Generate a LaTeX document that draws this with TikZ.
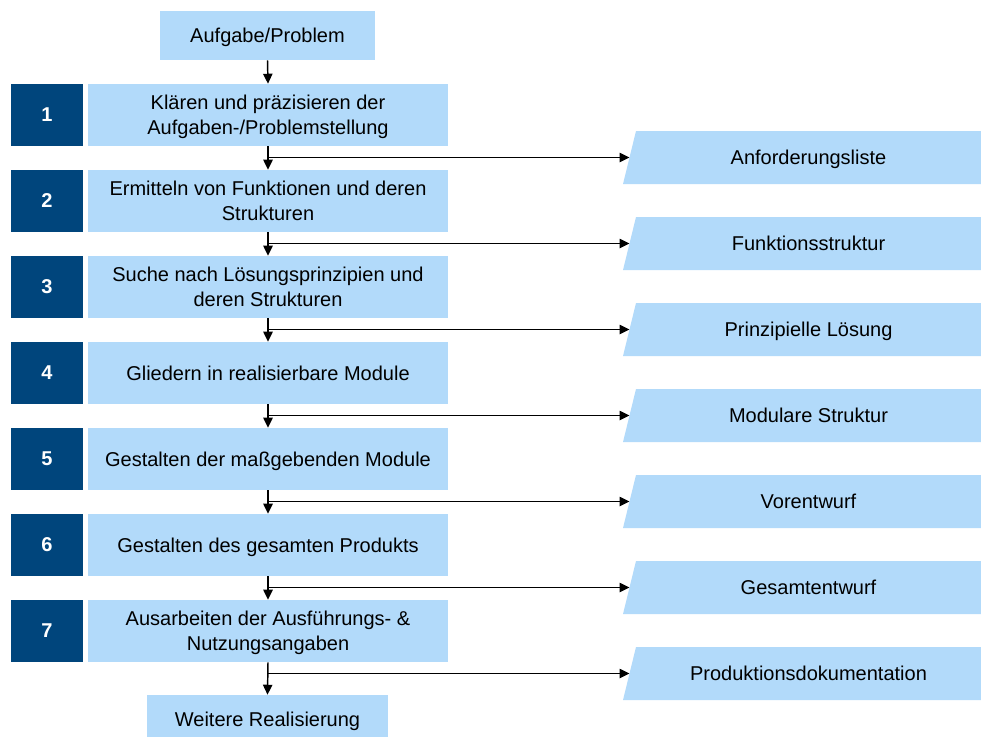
\documentclass[tikz,border=0pt]{standalone}
\usepackage{fontspec}
\setmainfont{Liberation Sans}
\usetikzlibrary{arrows.meta}
\definecolor{paleblue}{RGB}{178,218,250}
\definecolor{deepblue}{RGB}{0,69,124}
\begin{document}
\begin{tikzpicture}[x=0.75pt,y=-0.75pt,
  every node/.style={font=\fontsize{15pt}{18.75pt}\selectfont, inner sep=0pt, text depth=0pt},
  endbox/.style={fill=paleblue, minimum height=36.75pt, align=center},
  stepbox/.style={fill=paleblue, minimum width=270pt, minimum height=46.5pt, align=center},
  numbox/.style={fill=deepblue, text=white, font=\fontsize{15pt}{18pt}\selectfont\bfseries, minimum width=54pt, minimum height=46.5pt},
  resultshape/.style={fill=paleblue},
  flow/.style={line width=1.1pt, -{Triangle[length=7.5pt,width=7pt]}}]
\useasboundingbox (0,0) rectangle (981,736);
\clip (0,0) rectangle (981,736);

% start and end of the process
\node[endbox, minimum width=161.25pt] (start) at (267.5,35.5) {Aufgabe/Problem};
\node[endbox, minimum width=180.75pt] (finish) at (267.5,719.5) {Weitere Realisierung};

% working steps with their numbers and results
\foreach \i/\step/\result in {
  1/{Klären und präzisieren der\\Aufgaben-/Problemstellung}/Anforderungsliste,
  2/{Ermitteln von Funktionen und deren\\Strukturen}/Funktionsstruktur,
  3/{Suche nach Lösungsprinzipien und\\deren Strukturen}/Prinzipielle Lösung,
  4/{Gliedern in realisierbare Module}/Modulare Struktur,
  5/{Gestalten der maßgebenden Module}/Vorentwurf,
  6/{Gestalten des gesamten Produkts}/Gesamtentwurf,
  7/{Ausarbeiten der Ausführungs- \&\\Nutzungsangaben}/Produktionsdokumentation} {
  \pgfmathsetmacro{\yc}{115+86*(\i-1)}
  \pgfmathsetmacro{\yr}{157.5+86*(\i-1)}
  \node[numbox] (n\i) at (47,\yc) {\i};
  \node[stepbox] (s\i) at (268,\yc) {\step};
  \fill[resultshape] (636,\yr-26.5) -- (995,\yr-26.5) -- (982,\yr+26.5) -- (623,\yr+26.5) -- cycle;
  \coordinate (e\i) at (629.5,\yr);
  \node (r\i) at (808.5,\yr) {\result};
}

% main flow
\draw[flow] (start.south) -- (s1.north);
\foreach \i [evaluate=\i as \j using int(\i+1)] in {1,...,6} {
  \draw[flow] (s\i.south) -- (s\j.north);
}
\draw[flow] (s7.south) -- (finish.north);

% branches to the results
\foreach \i in {1,...,7} {
  \draw[flow] (s\i.south |- e\i) -- (e\i);
}
\end{tikzpicture}
\end{document}
